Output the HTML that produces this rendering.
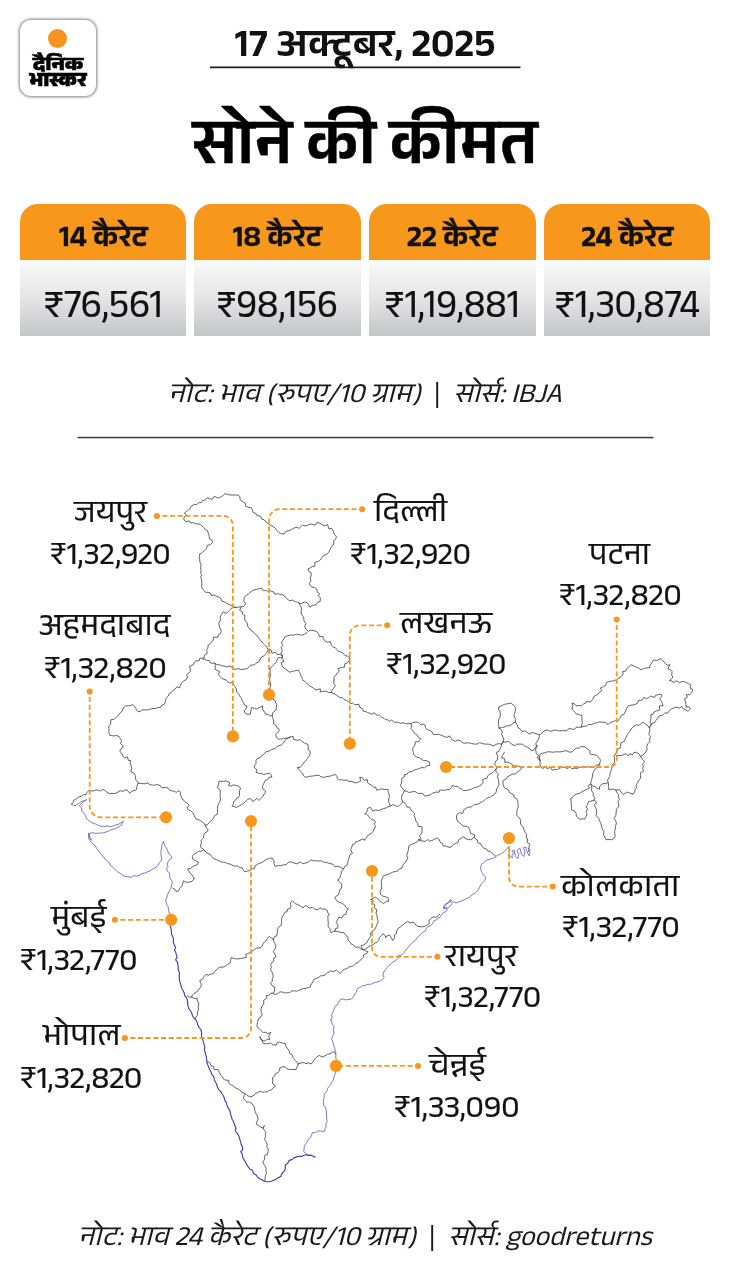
<!DOCTYPE html>
<html lang="hi">
<head>
<meta charset="utf-8">
<title>सोने की कीमत</title>
<style>
html,body{margin:0;padding:0;background:#fff;}
body{width:730px;height:1280px;position:relative;overflow:hidden;
  font-family:"Anek Devanagari","Noto Sans Devanagari","Liberation Sans",sans-serif;color:#111;}
.abs{position:absolute;white-space:nowrap;line-height:1;}
.logo{position:absolute;left:20px;top:20px;width:76px;height:76px;border-radius:11px;background:#fff;
  box-shadow:0 0 3px 1px rgba(0,0,0,.5);}
.logo .sun{position:absolute;left:28px;top:9px;width:19px;height:19px;border-radius:50%;background:#f7931e;}
.logo .l1,.logo .l2{position:absolute;left:0;width:76px;text-align:center;font-weight:800;color:#000;line-height:1;white-space:nowrap;-webkit-text-stroke:0.5px #000;}
.logo .l1{top:37.8px;font-size:19px;transform:scaleX(1.13);}
.logo .l2{top:52.6px;font-size:20.5px;transform:scaleX(1.04);}
.date{left:0;width:730px;text-align:center;top:30px;font-size:39.5px;font-weight:600;color:#111;transform:scaleX(1.015);}
.title{left:0;width:730px;text-align:center;top:122px;font-size:63.5px;font-weight:600;color:#000;transform:scaleX(1.0);-webkit-text-stroke:0.4px #000;}
.card{position:absolute;top:204px;width:166.4px;height:131.5px;border-radius:18px 18px 0 0;overflow:hidden;
  background:linear-gradient(#fafafa 55px,#e6e6e7 93px,#c5c6c8 131px);}
.card .h{position:absolute;left:0;top:0;width:100%;height:55.5px;background:#f7981d;}
.card .ht{position:absolute;left:0;top:23px;width:100%;text-align:center;font-size:29px;font-weight:600;transform:scaleX(1.05);-webkit-text-stroke:0.35px #111;line-height:1;color:#111;white-space:nowrap;}
.card .p{position:absolute;left:0;top:86.5px;width:100%;text-align:center;font-size:40px;font-weight:400;-webkit-text-stroke:0.2px #111;line-height:1;color:#111;white-space:nowrap;}
.note{left:0;width:730px;text-align:center;font-size:27.5px;font-style:italic;font-weight:400;color:#1a1a1a;transform:scaleX(1.03);}
.note i{font-style:normal;display:inline-block;padding:0 12.6px 0 12.4px;}
.city,.val{position:absolute;white-space:nowrap;line-height:1;color:#111;font-weight:400;transform-origin:0 0;-webkit-text-stroke:0.22px #111;}
.city{font-size:31px;}
.val{font-size:32.3px;}
#map{position:absolute;left:0;top:0;width:730px;height:1280px;}
</style>
</head>
<body>
<div class="logo"><div class="sun"></div><div class="l1">दैनिक</div><div class="l2">भास्कर</div></div>
<div class="abs date">17 अक्टूबर, 2025</div>
<div class="abs title">सोने की कीमत</div>
<div class="card" style="left:19.8px"><div class="h"></div><div class="ht">14 कैरेट</div><div class="p" style="transform:scaleX(0.972)">₹76,561</div></div>
<div class="card" style="left:194.3px"><div class="h"></div><div class="ht">18 कैरेट</div><div class="p" style="transform:scaleX(0.962)">₹98,156</div></div>
<div class="card" style="left:369.2px"><div class="h"></div><div class="ht">22 कैरेट</div><div class="p" style="transform:scaleX(0.962)">₹1,19,881</div></div>
<div class="card" style="left:544px"><div class="h"></div><div class="ht">24 कैरेट</div><div class="p" style="transform:scaleX(0.962)">₹1,30,874</div></div>
<div class="abs note" style="top:384px">नोट: भाव (रुपए/10 ग्राम)<i>|</i>सोर्स: IBJA</div>
<svg id="map" viewBox="0 0 730 1280"><rect x="210" y="66.5" width="310.5" height="1.7" fill="#1a1a1a"/><rect x="77.5" y="436.8" width="576" height="1.5" fill="#3a3a3a"/><path fill="none" stroke="#3c3c3c" stroke-width="0.8" stroke-linejoin="round" stroke-linecap="round" d="M235.3 607.4 232.3 606.2 229.9 604.7 227.2 603.5 224.4 601.9 222.0 601.3 220.7 598.2 218.7 596.9 216.2 596.4 214.2 595.0 211.0 595.5 210.0 592.8 207.9 592.3 205.5 592.4 203.4 589.8 201.6 587.4 201.8 585.0 201.9 582.8 201.7 579.9 200.7 576.9 201.7 574.7 200.6 573.2 201.1 570.4 200.6 567.7 201.2 564.8 200.0 562.7 199.7 559.0 199.2 556.7 199.7 554.0 201.7 552.9 204.8 550.0 206.6 548.5 207.2 545.3 210.3 544.7 212.6 542.5 211.9 540.2 209.1 538.6 209.3 536.2 208.2 533.2 207.6 530.8 205.2 529.3 203.6 527.6 201.1 525.2 198.8 523.9 196.0 524.0 192.9 522.5 190.7 523.1 189.4 520.9 186.0 521.6 183.8 519.7 184.1 517.0 186.5 515.3 184.3 513.0 187.4 510.7 189.6 509.2 191.6 505.7 194.2 504.7 196.8 504.5 198.6 502.7 201.3 502.7 202.5 500.5 205.1 500.2 207.2 497.7 209.3 498.6 212.4 499.2 214.3 496.3 217.5 497.8 219.4 497.9 222.7 495.7 225.0 493.7 227.1 494.2 229.7 494.9 232.9 495.0 235.9 495.0 238.1 495.1 239.9 496.7 240.1 499.8 242.2 501.4 245.3 503.1 245.7 506.3 249.0 507.4 251.5 507.9 252.4 510.2 253.0 512.6 255.9 513.4 256.8 515.5 260.7 516.2 261.7 519.2 264.1 519.7 266.0 522.0 268.2 523.8 270.7 525.4 273.0 526.5 275.1 527.9 276.5 530.1 278.4 532.2 280.5 533.4 284.0 534.2 285.8 531.3 288.8 530.7 291.9 529.3 294.3 528.0 297.0 527.1 298.9 528.5 302.4 525.1 305.3 526.0 307.9 525.2 310.3 524.1 312.1 524.2 315.3 525.2 316.7 522.5 319.4 523.2 321.9 524.6 324.4 526.0 327.6 524.6 328.7 528.5 332.1 528.8 333.4 531.2 333.9 533.8 335.3 534.8 336.5 537.2 334.9 539.9 333.5 540.7 334.0 544.4 332.2 545.4 331.1 547.6 329.4 550.9 328.5 552.6 326.2 554.6 323.4 555.7 321.6 558.1 319.5 560.7 317.6 561.5 314.9 562.3 314.8 566.3 312.3 566.4 309.9 568.1 307.9 569.0 308.9 571.6 311.0 572.4 311.2 575.9 310.1 577.9 311.0 580.6 309.3 583.6 310.7 586.1 311.9 587.1 314.4 587.3 316.7 589.0 317.2 592.1 319.5 593.7 318.5 595.9 320.3 597.8 320.1 601.6 317.8 602.2 316.2 604.7 313.9 605.3 312.0 605.1 310.1 607.4 308.6 604.4 307.5 602.9 304.7 601.9 301.7 603.4 299.2 603.3 M235.3 607.4 238.1 607.2 240.8 606.8 243.7 606.4 245.5 603.8 243.7 600.9 244.4 597.5 246.3 595.1 248.5 593.8 251.2 591.5 253.2 590.1 256.5 589.4 259.1 588.7 261.4 588.2 263.7 590.9 266.6 590.3 268.2 591.8 270.7 591.0 273.9 592.1 275.1 594.5 277.4 593.4 279.6 594.3 281.9 594.5 284.7 596.1 286.6 598.4 289.4 600.8 292.9 600.0 295.2 601.7 296.7 601.8 299.2 603.3 M299.2 603.3 300.4 606.2 301.8 607.8 301.1 611.0 301.3 614.1 303.0 616.3 303.8 618.4 303.9 620.6 305.8 623.4 304.7 626.6 305.8 629.2 308.5 631.2 310.8 630.2 314.0 630.7 316.8 631.7 318.6 634.1 319.5 636.7 322.9 636.4 323.2 638.5 325.2 641.3 327.7 642.2 330.5 641.7 331.2 645.0 333.3 647.1 335.3 647.7 337.0 649.6 338.7 651.6 340.1 651.6 343.0 653.2 345.3 655.8 347.6 656.1 349.9 658.1 M235.3 607.4 232.8 606.9 229.6 610.3 228.5 611.5 226.2 613.3 223.3 611.7 221.6 614.2 220.1 617.2 220.6 619.9 218.9 622.5 219.2 625.6 219.9 627.9 221.2 630.4 220.8 633.4 218.4 634.6 217.9 637.2 213.2 637.2 213.4 640.3 212.2 640.9 210.1 644.0 208.0 645.3 207.9 648.2 206.6 649.9 207.2 653.6 204.6 655.0 203.8 658.1 199.9 658.1 199.0 661.0 195.6 660.8 194.0 662.8 193.4 664.7 189.6 666.3 190.1 669.0 190.4 671.5 186.7 674.5 187.4 677.3 M240.8 607.4 239.7 610.4 242.5 611.9 242.2 614.2 244.9 615.4 244.5 619.0 245.5 621.1 247.2 623.0 247.5 626.0 249.0 627.9 250.4 630.1 252.9 631.4 253.9 632.8 255.9 634.8 258.0 636.5 259.4 638.9 261.1 641.0 262.7 643.0 264.4 644.6 266.8 647.1 268.2 649.8 269.6 651.2 M225.8 680.0 227.6 681.7 229.3 682.8 232.9 682.7 234.0 685.5 235.8 687.8 236.3 688.6 236.7 692.3 239.2 694.4 239.4 695.7 241.5 698.3 242.2 700.5 243.6 702.7 244.7 705.3 247.1 706.0 246.3 708.6 244.1 710.6 244.9 712.9 247.0 714.3 250.4 714.2 250.8 711.6 251.2 709.1 251.8 707.4 254.8 708.7 257.3 708.8 260.9 706.7 262.7 706.0 262.5 709.0 264.9 712.6 265.5 714.2 268.2 714.4 269.9 716.0 272.3 715.6 272.4 713.0 274.9 711.2 276.0 709.8 276.4 707.4 276.7 704.7 275.7 702.7 275.1 700.5 272.9 699.1 271.1 698.7 269.6 696.4 M272.3 715.6 272.7 717.7 273.5 720.1 273.7 723.8 276.1 725.4 277.0 727.8 279.2 729.3 278.7 731.5 275.7 734.5 276.4 737.5 278.5 739.1 281.9 738.9 283.8 738.3 287.9 738.2 290.1 737.0 293.1 736.5 293.7 739.4 297.0 740.3 299.9 739.6 302.1 741.6 305.3 743.4 307.9 744.4 308.2 747.1 308.2 749.8 310.1 751.2 310.1 754.2 308.8 756.7 306.6 759.5 305.3 761.3 303.9 762.3 302.5 764.9 300.3 767.3 297.0 767.7 298.9 769.3 300.5 771.1 302.5 773.2 303.4 775.7 305.2 777.3 307.6 776.8 309.4 776.4 313.4 775.9 316.3 775.4 319.2 775.3 321.0 777.0 324.4 777.3 326.9 776.4 330.2 776.2 332.2 775.3 335.3 774.5 336.8 776.2 337.7 778.7 339.5 780.0 341.4 779.6 344.0 780.3 346.7 780.1 349.0 781.4 351.9 781.4 354.3 782.7 357.3 782.7 360.5 781.1 360.0 777.3 M290.1 737.0 287.1 738.3 285.7 739.5 283.3 743.0 281.5 745.0 278.0 745.9 276.5 747.2 275.1 748.5 272.2 749.2 270.6 750.3 268.7 751.2 266.2 751.7 264.1 754.0 261.2 756.1 260.1 757.6 257.3 758.3 255.9 760.8 256.1 763.4 254.4 765.6 254.5 767.7 256.9 769.8 256.0 772.3 258.6 773.2 261.2 773.4 263.8 774.5 266.6 773.8 269.6 773.2 271.4 775.2 271.8 777.3 269.2 777.1 267.5 779.8 265.5 780.0 264.1 782.9 262.7 785.5 262.6 788.8 265.4 790.8 265.5 792.3 263.9 794.4 263.2 796.3 261.4 797.8 258.9 800.5 256.9 798.3 254.5 800.5 252.7 801.5 250.4 798.6 247.7 799.2 245.8 801.2 243.6 803.3 241.8 804.5 239.5 805.7 236.7 807.4 234.1 806.7 231.8 806.0 233.3 804.5 233.5 801.8 235.3 800.5 236.8 797.9 238.6 797.4 239.5 795.1 239.5 793.0 239.5 790.5 240.8 788.2 238.7 786.5 236.7 785.5 233.0 785.0 231.2 786.1 228.5 785.5 229.7 782.6 225.8 780.8 223.5 781.5 221.0 781.1 218.9 781.4 218.6 783.9 217.9 786.3 217.5 788.2 220.2 789.8 220.3 793.7 220.0 795.6 220.5 798.9 219.8 801.3 218.9 803.3 217.7 806.1 217.5 808.6 217.5 811.5 217.2 814.4 214.5 815.7 213.4 818.4 211.2 820.8 209.3 822.5 207.4 824.7 205.2 825.2 M160.0 785.5 162.0 787.9 165.4 787.4 168.2 788.2 169.8 790.5 171.7 790.8 174.4 791.3 176.4 792.3 179.1 790.7 180.5 792.3 180.2 794.5 181.9 797.8 183.2 800.1 185.4 801.9 187.4 803.3 189.2 805.2 187.0 807.9 188.8 810.1 190.8 810.9 193.3 813.1 194.2 815.6 195.7 818.7 199.4 820.1 201.1 821.1 203.3 822.6 205.2 825.2 M205.2 825.2 206.3 827.7 207.9 829.3 207.6 831.3 204.9 832.9 203.8 834.8 203.5 838.0 201.1 840.3 201.4 842.8 200.8 844.8 200.5 847.1 203.4 849.2 205.2 851.2 203.3 849.9 201.1 851.2 198.8 851.3 196.2 853.1 194.2 854.0 192.3 856.3 192.9 859.5 195.8 860.8 198.4 862.2 197.4 864.7 195.0 865.5 192.9 866.3 191.4 868.2 187.4 869.0 188.8 871.2 190.1 873.2 192.1 875.0 192.9 876.4 194.2 878.6 M205.2 851.2 206.7 852.9 210.2 854.4 212.1 856.7 213.9 858.7 216.2 859.5 218.9 860.8 222.3 862.2 225.6 862.4 227.1 863.6 230.0 864.0 233.0 865.7 235.3 866.3 236.9 865.5 240.1 867.8 242.2 867.7 243.7 871.0 244.9 871.8 247.4 871.0 250.0 870.6 251.8 869.0 254.6 868.7 254.9 866.1 258.6 863.6 261.1 862.9 264.5 861.1 265.5 859.5 267.7 859.1 269.6 858.2 272.3 858.1 273.9 860.9 274.1 863.6 275.1 866.3 278.2 865.6 280.6 865.8 283.3 864.9 286.2 864.6 289.1 861.9 291.5 862.2 293.8 862.9 297.0 863.9 300.6 861.9 302.5 863.6 305.7 863.1 307.9 862.4 310.8 860.0 313.4 860.8 316.0 860.8 318.9 861.1 321.6 860.8 324.0 862.3 326.2 862.3 329.9 863.6 333.0 864.2 334.8 866.5 338.1 866.3 341.5 867.9 343.6 869.0 344.6 866.4 347.1 865.3 347.7 863.2 348.1 860.4 349.0 858.1 349.9 854.9 352.4 853.4 350.7 849.5 351.8 847.1 352.5 844.5 354.9 843.8 355.9 841.6 357.4 841.6 360.0 840.3 M343.6 869.0 341.9 870.8 340.8 874.5 340.1 877.3 338.1 880.0 M302.5 680.0 304.8 681.3 305.9 682.7 307.9 684.1 310.0 686.3 311.7 686.9 313.4 688.2 316.0 690.0 320.3 688.8 320.3 692.0 324.4 691.0 326.9 691.4 329.1 692.8 331.2 692.3 332.1 690.3 334.3 687.4 335.3 685.5 333.8 683.4 334.0 680.0 M331.2 692.3 332.8 693.2 335.8 694.7 338.1 696.4 339.7 697.6 342.4 697.7 344.0 699.3 346.3 700.5 348.6 701.7 350.6 703.9 352.6 702.9 354.5 704.7 359.0 704.4 360.0 707.4 M187.4 677.3 186.2 679.7 184.0 680.5 181.9 682.9 180.5 685.2 179.6 688.0 176.9 686.6 175.1 689.3 172.8 690.6 171.2 692.6 169.2 693.6 168.2 696.2 166.6 697.7 165.7 699.7 164.9 703.1 164.1 704.4 161.9 705.0 160.8 707.2 157.5 707.5 155.9 708.5 152.9 708.5 149.8 709.3 147.9 709.9 144.9 709.9 142.4 709.8 140.7 711.3 138.1 711.8 136.4 709.9 135.9 708.3 134.2 706.0 132.6 704.4 130.2 705.8 128.3 705.6 125.8 705.8 123.0 708.1 122.5 710.9 120.3 712.6 118.4 715.6 116.8 716.7 115.3 718.4 113.4 719.5 110.9 719.7 110.5 724.4 108.8 726.3 108.9 728.7 108.8 731.8 109.8 735.3 113.4 735.9 116.6 735.6 119.0 736.4 120.3 738.6 121.5 740.8 120.7 743.6 122.5 745.5 123.2 747.4 119.9 750.0 120.3 752.3 122.5 754.0 122.8 756.5 124.4 757.8 127.2 756.8 128.6 760.5 130.7 760.5 130.1 762.3 131.3 766.3 131.8 768.8 130.7 771.7 134.4 773.2 135.3 775.6 135.4 778.0 136.1 780.3 138.1 782.5 M138.1 783.0 140.1 783.5 142.3 783.6 144.9 783.8 148.0 782.8 149.4 784.7 152.5 785.1 154.5 785.2 157.2 784.5 160.0 785.5 M138.1 783.0 136.9 786.3 136.7 789.3 135.4 790.4 131.5 791.2 129.9 793.4 128.6 791.8 127.1 790.1 125.0 790.0 123.0 791.4 120.3 790.7 118.0 792.0 114.9 793.6 112.1 793.4 109.1 793.5 107.0 792.4 105.2 790.7 102.8 789.3 100.3 791.1 98.8 790.2 95.6 790.1 93.3 790.9 91.1 790.9 88.8 790.7 86.7 792.7 86.0 794.8 83.3 794.7 81.5 796.3 79.2 796.7 77.6 798.0 76.3 798.8 73.7 800.3 72.9 802.5 71.5 804.4 M202.5 659.2 204.9 658.8 206.9 660.5 209.3 660.5 210.2 663.0 214.8 663.3 215.3 664.7 215.1 669.2 216.2 670.1 219.5 671.3 218.5 674.8 220.3 677.0 221.9 678.5 225.8 680.0 M214.8 663.3 217.2 664.8 219.3 664.6 221.6 665.8 224.4 666.0 226.9 667.0 230.5 665.9 232.6 668.8 235.7 669.3 238.1 668.5 240.8 669.6 243.8 669.2 247.5 668.5 249.0 666.8 250.2 665.3 254.6 664.8 255.9 663.3 258.8 661.9 260.0 659.7 M349.9 658.1 349.0 660.7 346.8 663.3 344.8 663.8 344.5 667.1 341.4 667.4 337.7 668.6 339.4 671.2 337.3 672.9 336.2 674.9 334.0 677.1 334.0 680.0 M360.0 707.4 362.8 709.1 363.3 711.2 365.8 711.5 367.7 712.6 370.1 713.4 372.0 714.2 374.2 712.8 377.0 715.3 379.4 715.0 381.6 717.2 383.8 718.1 385.4 719.7 387.6 719.7 389.3 721.6 391.7 719.9 394.1 722.5 396.2 722.2 398.4 722.3 400.7 723.4 403.0 722.7 405.7 723.7 408.7 723.6 410.7 723.6 412.9 722.7 415.1 722.0 418.1 722.2 420.6 724.7 422.9 724.1 424.9 724.9 425.6 727.7 426.4 728.8 429.0 730.4 431.8 731.4 433.0 734.3 435.9 734.5 438.7 734.3 441.1 735.1 444.1 736.4 446.7 737.5 449.6 735.9 451.5 738.8 452.3 740.0 455.1 741.3 458.0 740.0 460.5 740.8 463.2 742.9 465.8 743.2 468.8 742.7 471.4 743.6 474.8 744.1 477.0 744.1 479.6 742.6 482.5 743.6 484.9 744.1 488.4 744.1 490.7 744.7 494.0 746.1 495.5 744.4 498.9 743.6 501.6 744.3 503.0 741.9 M498.9 707.1 501.2 705.9 504.4 704.4 506.2 704.0 509.2 703.5 511.2 703.0 513.3 705.2 515.3 707.1 515.5 710.6 515.1 711.9 514.0 715.3 514.5 717.2 515.7 719.6 515.3 722.2 513.6 723.0 511.2 724.9 508.4 725.9 506.5 725.8 504.4 727.1 501.7 727.5 498.9 728.2 498.7 725.4 498.6 724.4 498.4 720.8 498.9 718.9 500.2 716.7 500.3 714.0 499.8 710.7 498.5 710.1 498.9 707.1 M498.9 728.2 500.5 728.8 502.3 731.9 501.6 734.5 502.5 736.0 503.9 739.5 503.0 741.9 M515.3 722.2 517.2 724.5 518.1 727.7 520.6 729.3 521.8 731.5 524.3 730.9 526.3 731.8 529.4 734.0 532.0 732.5 534.5 733.2 537.0 734.1 539.5 734.5 539.4 736.4 538.7 738.6 537.3 741.4 535.7 743.7 537.3 746.8 535.9 748.2 535.7 750.0 536.3 753.7 538.6 755.1 537.4 757.7 540.0 760.5 M503.0 741.9 506.0 742.1 508.5 741.4 510.7 743.0 512.0 744.6 515.3 745.5 516.8 744.1 519.5 744.1 522.2 744.1 524.4 745.8 526.5 746.7 529.0 748.2 531.0 749.6 531.8 751.0 534.2 749.6 535.8 746.6 537.3 745.5 M410.7 723.6 411.9 726.0 410.9 728.3 412.6 730.4 413.8 732.6 416.7 734.5 418.2 737.3 420.8 738.6 418.5 741.6 415.3 741.9 414.9 744.8 414.1 746.3 412.6 748.2 412.8 750.4 413.3 752.6 414.0 755.1 416.5 757.0 419.5 757.8 420.5 758.4 423.7 760.6 426.3 760.5 429.4 762.1 429.9 765.5 426.8 765.8 424.3 767.9 422.2 767.4 418.5 768.8 416.5 769.4 414.0 770.1 412.3 771.5 408.5 772.2 407.1 774.2 404.1 774.7 404.3 777.0 401.6 778.4 401.8 780.5 401.4 783.3 400.3 785.2 401.4 787.1 402.9 788.9 404.4 790.7 M404.4 790.7 407.0 791.4 408.5 792.4 411.2 792.1 414.8 791.3 417.2 793.1 419.5 793.4 422.7 793.4 424.9 796.2 427.0 795.7 430.4 794.8 433.2 792.9 435.9 792.1 439.1 792.2 439.6 790.2 442.7 790.1 445.5 790.2 446.7 789.8 449.6 789.3 451.7 787.3 452.3 785.2 454.7 786.3 457.8 786.6 459.8 788.4 461.1 788.4 463.3 790.7 466.3 790.5 469.2 789.7 471.5 789.3 473.6 787.9 476.2 787.2 478.4 786.6 480.9 785.1 483.1 782.4 482.5 779.7 484.9 778.7 487.0 778.3 487.9 775.6 489.3 774.4 492.3 772.8 493.4 771.5 496.2 768.8 M503.0 741.9 501.6 744.0 501.3 746.2 500.3 748.2 498.8 751.5 496.2 752.3 496.9 754.0 497.7 756.4 497.5 759.2 495.2 762.0 494.8 764.7 496.8 766.7 496.2 768.8 495.8 771.4 498.3 773.7 497.5 777.0 498.6 779.8 498.6 781.5 498.9 785.2 498.1 786.8 496.5 789.0 496.2 792.1 494.6 794.2 491.4 796.4 489.3 797.5 486.4 798.3 485.2 799.6 482.5 801.6 480.1 802.9 477.0 804.4 474.2 804.4 472.7 805.9 471.3 806.9 467.3 807.3 466.0 808.5 464.0 809.5 462.7 813.4 459.2 812.6 456.8 815.0 456.4 818.1 457.5 821.0 458.2 822.2 460.5 823.6 463.1 826.0 466.0 826.3 468.4 827.2 469.7 829.2 470.1 831.8 470.8 833.6 474.7 834.8 474.2 837.3 477.0 840.0 M504.4 752.3 502.4 755.5 501.6 757.8 504.5 758.5 504.9 762.6 507.1 761.9 509.3 762.8 511.7 764.0 512.9 765.8 515.3 766.0 519.1 766.1 521.4 768.2 519.5 770.7 516.6 772.5 515.3 774.2 512.4 774.1 509.0 776.0 507.1 777.0 506.0 779.3 503.2 780.5 503.0 782.5 503.1 784.7 504.4 787.9 507.5 788.9 509.6 792.6 511.2 793.4 513.9 795.0 513.8 797.0 516.7 798.9 517.9 801.6 518.1 804.2 518.1 807.1 517.3 809.4 516.8 812.2 516.7 815.3 518.6 817.0 519.9 818.8 520.8 820.8 520.4 824.0 522.9 826.5 523.6 829.0 525.0 832.1 526.6 834.4 526.3 837.3 527.7 840.0 M360.0 777.3 362.3 777.6 364.1 780.3 367.4 779.7 367.7 782.7 368.8 783.8 371.5 785.2 373.7 787.5 375.6 787.1 376.7 790.3 379.7 789.3 382.1 788.9 385.3 789.7 387.9 789.3 388.3 792.8 389.2 794.9 389.3 797.5 388.4 800.0 389.4 804.0 390.7 805.8 392.6 804.8 394.5 805.3 397.5 806.6 398.9 805.8 401.6 803.1 402.5 801.6 401.5 798.8 401.8 795.5 403.3 793.4 404.4 790.7 M390.7 805.8 388.2 806.7 386.2 807.9 383.8 808.5 381.1 809.5 378.5 810.5 375.6 809.9 372.8 811.2 370.4 807.3 367.4 808.5 367.0 811.9 364.7 814.0 366.4 814.2 369.0 816.4 370.1 818.1 371.7 819.7 373.9 819.9 375.6 822.2 373.9 824.3 375.7 826.0 374.2 829.0 372.5 832.5 371.4 833.4 368.8 834.5 367.3 836.2 366.6 837.8 364.7 840.0 M402.5 801.6 405.2 803.4 406.3 805.1 407.1 807.1 409.7 807.2 411.0 810.3 412.6 811.2 414.5 813.4 414.0 815.6 415.3 818.1 415.7 820.6 417.8 823.3 418.1 826.3 421.8 826.6 422.2 830.4 421.9 833.0 419.5 835.9 420.6 838.2 420.8 840.0 M540.5 734.5 543.1 732.3 544.0 730.9 547.4 729.9 550.3 731.3 552.5 730.8 555.6 729.9 558.4 730.8 561.0 730.8 563.8 730.4 566.5 731.1 568.5 728.7 572.1 729.0 574.4 729.6 576.3 727.2 578.6 727.3 581.6 727.1 581.7 724.9 582.5 722.2 581.8 720.4 582.0 717.8 581.6 715.3 578.8 714.5 576.2 714.0 575.3 712.5 572.6 709.9 572.0 708.0 573.0 706.0 572.1 703.0 574.4 703.8 576.2 705.8 579.3 705.5 581.6 705.8 583.8 703.8 585.8 703.0 586.5 701.2 590.4 702.1 591.8 700.3 593.3 698.4 594.0 696.2 595.7 695.5 598.0 694.3 599.5 692.1 601.6 690.8 600.5 687.8 603.6 686.6 605.8 685.2 606.3 682.5 608.6 681.7 610.6 681.2 613.2 681.1 616.0 679.8 618.6 678.4 621.2 676.8 623.2 674.0 622.7 671.5 625.8 671.1 626.5 668.8 628.2 667.4 631.0 664.7 633.5 665.8 636.4 667.4 638.4 667.8 640.9 669.8 643.3 668.8 644.6 668.1 647.6 667.9 650.1 667.4 649.7 665.5 651.5 663.3 653.6 660.0 657.0 660.5 660.1 659.0 661.1 658.6 663.1 660.9 665.2 663.3 667.4 665.3 670.1 664.7 668.9 666.5 667.9 668.8 670.9 670.1 672.1 671.5 671.7 675.1 672.9 677.0 671.3 679.0 669.3 680.5 672.1 681.0 673.4 682.5 676.2 680.9 679.6 682.8 681.6 681.6 684.6 681.7 686.1 682.4 688.5 683.8 691.1 685.3 689.9 688.1 692.6 689.3 691.9 692.2 689.9 694.8 686.4 694.6 687.2 697.4 684.4 698.9 685.8 702.0 685.8 704.4 686.1 707.0 689.1 706.9 690.4 709.0 688.0 711.2 685.8 709.9 682.7 708.5 681.6 706.3 679.7 708.1 676.2 707.1 674.1 707.9 671.3 708.9 669.3 710.7 667.4 713.3 665.1 712.7 662.5 715.3 659.0 716.0 658.1 717.9 655.6 720.8 654.3 723.0 651.7 723.3 650.1 726.3 649.3 727.7 650.0 729.1 649.2 732.4 648.8 734.5 650.7 736.3 649.3 739.9 650.1 741.4 647.9 743.7 646.6 746.8 647.2 749.3 645.5 752.3 643.3 754.9 640.5 756.4 642.4 758.8 642.8 759.8 644.7 761.9 642.6 764.2 643.4 766.2 642.7 768.8 643.7 771.1 640.6 772.7 640.5 775.6 640.7 778.4 638.4 780.4 637.8 782.5 636.1 785.1 636.5 787.7 635.1 789.3 634.7 792.3 632.9 794.0 M581.6 727.1 584.1 726.3 586.5 726.1 588.5 724.4 591.8 724.7 593.7 723.4 596.7 722.7 599.2 721.9 602.1 722.2 604.9 722.2 608.1 724.7 610.1 722.5 613.2 721.6 615.4 720.6 618.1 720.8 619.7 718.5 621.4 715.3 624.2 714.1 625.1 712.2 626.8 708.5 628.2 705.8 630.6 705.3 633.1 705.0 635.1 704.4 637.6 703.2 638.5 700.4 641.9 700.3 643.7 697.3 646.5 698.7 648.8 697.5 650.6 696.1 654.6 697.4 655.6 695.3 658.9 694.6 661.1 694.2 662.0 696.1 659.7 698.9 661.0 700.7 662.4 703.4 663.0 705.8 659.4 705.9 659.7 709.9 656.8 710.8 654.2 711.8 653.0 714.3 650.9 714.8 651.0 718.1 650.5 720.4 650.0 722.2 651.5 724.5 649.3 727.7 M649.3 727.7 647.6 725.5 646.1 724.7 643.3 722.2 641.4 723.3 639.5 725.0 636.4 724.9 634.0 725.9 632.6 727.8 631.0 729.0 630.2 731.2 628.4 732.9 627.4 734.5 626.4 736.8 625.4 738.9 624.1 741.4 620.9 742.8 620.5 746.6 620.0 748.2 618.0 748.7 616.5 751.8 615.9 753.7 613.7 756.2 614.4 757.6 614.5 760.5 614.3 763.2 612.4 764.5 611.8 767.4 611.5 769.6 610.4 772.1 609.9 774.2 609.7 776.5 607.5 780.2 608.2 782.5 608.6 785.2 608.4 787.4 609.0 789.3 M615.9 755.1 617.8 755.5 620.9 755.6 622.7 755.1 625.7 753.7 628.5 755.8 629.6 753.7 632.6 754.9 633.8 752.5 636.4 752.3 639.0 753.9 640.5 756.4 M632.9 794.0 629.6 793.0 626.8 792.1 623.3 794.5 621.4 792.9 619.6 789.7 615.9 790.1 613.5 789.2 611.4 789.3 609.0 789.3 M539.2 757.8 539.6 756.1 540.5 753.7 542.8 753.2 544.8 752.8 547.4 751.8 550.2 751.8 552.4 752.3 555.6 751.8 558.8 751.9 561.0 751.8 563.8 751.0 566.5 750.8 570.0 752.3 572.1 751.8 573.8 750.1 576.2 748.2 579.1 748.1 581.2 746.5 584.4 746.8 586.8 748.3 588.5 749.6 590.1 750.9 589.9 753.7 591.5 754.5 594.6 754.8 596.7 755.1 597.9 756.5 599.4 758.5 600.8 760.5 600.0 762.1 599.5 764.7 597.0 764.8 594.0 767.4 591.3 767.6 588.8 766.5 585.8 767.4 583.3 767.1 579.5 767.2 577.4 768.4 574.8 768.2 571.9 768.8 570.1 766.7 567.3 768.6 565.2 767.4 562.1 767.0 561.1 767.5 557.5 769.5 555.6 769.3 552.3 770.2 549.9 767.3 547.4 768.8 545.5 767.2 542.5 768.4 540.5 766.6 539.9 763.7 540.3 760.7 539.2 757.8 M540.0 760.5 539.2 757.8 M570.7 798.9 573.0 796.8 574.8 794.8 577.8 793.6 579.5 793.4 581.6 792.1 584.0 790.7 587.1 789.3 589.3 788.1 588.5 785.3 590.7 783.8 591.3 785.6 591.8 787.9 591.5 790.4 593.4 793.4 593.2 795.8 594.9 797.9 594.0 800.3 591.0 801.1 588.5 801.6 587.5 804.7 585.8 807.1 587.6 808.6 586.1 812.3 587.1 814.0 585.9 816.5 584.4 819.5 583.3 818.5 580.3 819.5 577.5 817.7 576.2 815.3 576.2 813.5 574.8 811.2 571.4 809.7 571.5 807.1 571.4 804.8 571.0 801.2 570.7 798.9 M594.0 800.3 597.1 802.5 594.5 804.4 595.1 806.9 596.7 809.9 596.5 813.1 596.1 815.6 598.9 818.5 599.5 820.8 600.8 823.1 601.6 826.1 602.2 829.0 604.1 831.7 603.5 834.7 604.9 837.3 606.1 839.7 609.0 839.5 611.9 839.8 614.5 837.8 615.2 835.7 614.5 831.8 615.3 829.2 615.3 826.5 616.4 823.6 615.9 821.2 614.1 818.5 615.9 815.3 616.1 812.7 616.4 809.6 618.1 807.1 618.9 804.8 617.9 801.7 619.4 799.5 618.6 797.5 618.7 794.8 616.5 792.1 615.9 790.1 M599.5 764.7 597.8 767.1 595.3 768.8 593.6 771.5 592.6 774.2 592.3 777.0 591.8 779.2 591.2 781.1 590.7 783.8 592.8 786.2 595.3 786.6 596.6 788.2 599.5 789.3 599.7 786.3 602.2 783.8 606.0 783.4 608.2 782.5 M194.2 878.6 192.0 881.4 188.8 882.2 186.2 882.3 183.3 880.8 182.8 883.9 181.9 886.3 179.6 888.4 178.6 890.9 176.4 891.8 175.2 889.4 172.9 888.2 M187.4 995.9 189.1 996.9 191.5 997.3 192.5 994.9 195.7 992.3 197.0 991.8 198.5 989.1 200.0 988.1 201.1 986.3 201.1 983.7 199.7 980.8 202.5 979.2 203.8 976.7 205.9 974.4 208.8 975.3 210.7 974.0 213.2 973.9 214.9 971.4 216.2 969.9 218.7 968.0 219.7 967.0 223.0 967.1 225.1 966.4 226.9 964.7 229.9 963.0 230.5 960.8 231.2 957.5 232.8 958.1 235.6 958.8 238.1 958.9 240.8 958.5 243.0 958.2 246.3 957.5 245.8 954.3 248.2 953.6 250.4 952.1 251.9 951.5 254.5 949.3 256.8 948.0 260.0 947.9 M359.9 840.3 362.4 839.2 364.8 840.0 M337.9 880.0 339.1 881.6 341.4 883.7 341.8 885.8 341.3 888.5 339.9 889.4 339.0 892.6 338.4 895.0 335.8 896.4 334.9 898.1 336.8 901.0 339.0 902.2 341.8 903.2 344.5 904.9 345.9 907.3 348.6 909.0 346.7 910.7 345.9 914.5 343.5 914.9 341.6 918.2 339.0 917.3 337.4 919.9 336.3 922.7 337.9 925.0 337.7 928.2 335.6 928.4 334.9 931.0 M334.9 931.0 331.1 932.6 329.5 928.2 328.0 926.2 328.3 924.1 328.1 921.4 327.9 918.5 327.9 915.7 329.5 914.5 328.0 913.4 327.1 910.2 325.3 909.0 322.1 909.2 319.9 907.7 317.9 909.9 314.4 909.0 312.6 907.2 309.2 908.2 307.5 906.3 305.2 905.5 303.1 907.9 300.7 906.3 297.8 904.5 295.2 903.6 292.5 900.8 290.2 903.0 291.1 906.3 290.1 908.4 287.7 909.0 287.0 911.8 285.0 912.1 282.9 915.9 281.8 917.7 281.5 920.7 281.5 922.7 281.1 925.5 278.4 927.4 277.4 929.6 277.4 931.8 276.8 935.8 274.7 936.4 273.3 939.2 M334.9 931.0 337.6 931.5 340.4 932.3 344.1 932.7 345.9 935.1 348.0 937.7 348.0 940.0 350.0 941.9 351.0 943.8 353.7 945.2 355.5 947.4 358.1 946.9 360.7 948.7 362.3 949.3 M362.3 949.3 361.0 945.8 364.2 944.6 366.8 942.7 367.8 940.5 369.1 938.5 371.0 936.2 370.5 933.2 372.0 931.6 374.7 929.6 376.0 926.9 377.0 924.5 378.2 921.4 377.4 919.1 377.0 915.5 376.0 913.2 377.0 909.6 374.4 908.0 374.7 904.9 372.5 903.5 373.1 900.0 370.5 899.5 373.3 898.1 375.7 897.1 378.1 899.2 379.6 901.2 381.5 902.2 383.6 903.6 386.9 901.0 388.4 901.6 388.4 898.1 386.1 897.0 382.9 896.2 380.8 894.5 380.0 891.3 381.8 888.0 381.5 885.8 381.5 883.8 381.3 880.3 382.1 878.9 383.6 875.6 387.0 874.8 390.0 873.6 392.5 872.2 395.2 871.5 397.8 871.0 399.5 868.8 402.1 867.9 402.7 865.3 404.6 863.1 406.2 861.1 407.9 858.0 406.7 855.3 407.5 852.9 408.3 850.3 408.5 848.2 408.9 846.0 411.1 844.4 414.4 843.3 417.4 841.7 418.5 839.7 M418.5 839.7 420.8 840.9 422.8 841.0 425.3 841.4 427.7 839.5 429.7 841.0 432.2 840.5 434.9 839.1 437.2 837.9 439.0 839.2 440.5 842.7 442.3 843.4 443.2 846.0 445.6 846.0 447.4 846.7 450.0 847.4 M418.5 839.7 420.4 840.0 M362.3 949.3 365.0 949.4 367.8 947.4 370.6 945.5 373.3 944.7 374.7 943.0 377.0 942.3 378.8 940.5 379.2 937.7 381.8 935.2 382.9 933.7 385.3 935.6 385.6 937.8 387.1 935.9 389.7 935.1 391.4 937.8 392.5 940.5 394.6 937.7 394.3 935.0 396.5 933.4 396.6 931.0 398.4 928.1 400.7 926.8 403.0 924.8 405.3 922.8 407.5 921.4 410.1 922.9 412.6 922.2 414.4 922.7 415.6 925.0 417.7 926.3 421.2 926.8 424.3 926.6 426.7 925.5 429.3 923.8 428.9 921.0 430.8 918.6 433.6 916.8 436.3 917.3 437.6 915.9 439.6 914.5 M362.3 949.3 364.6 950.7 367.8 951.5 366.9 953.4 363.5 954.8 363.7 957.0 362.5 958.4 359.8 960.5 358.2 962.5 355.6 963.7 353.5 965.7 351.4 966.6 348.7 966.8 347.1 968.7 344.5 969.3 342.4 970.6 340.4 973.4 338.5 972.1 336.3 970.1 333.4 971.7 330.8 970.7 329.0 972.1 327.2 972.4 325.3 974.8 322.9 975.8 320.9 975.7 318.5 977.5 316.2 978.4 313.7 979.6 313.0 981.6 310.8 985.0 310.3 987.1 308.2 987.5 306.2 988.2 303.4 988.5 301.9 989.1 298.7 990.4 296.6 991.2 294.3 990.8 292.0 990.9 289.7 992.6 288.3 992.6 285.5 993.0 282.9 992.1 279.5 991.9 277.4 994.0 274.9 994.5 273.3 993.2 M273.3 939.2 273.8 941.5 275.0 943.6 276.0 946.0 275.4 948.3 273.3 951.5 275.0 954.7 276.0 957.0 273.7 958.0 273.8 961.0 271.9 962.5 270.6 964.8 271.4 967.3 270.5 969.3 271.7 971.7 272.5 973.2 273.3 976.2 272.2 978.8 272.4 981.1 270.5 983.0 271.9 985.5 274.7 987.1 274.4 991.1 273.3 993.2 270.4 993.3 268.3 995.6 266.4 995.3 266.9 997.9 263.8 1000.2 263.7 1002.2 263.7 1004.5 262.1 1005.9 261.0 1009.0 261.2 1012.1 262.3 1014.5 261.1 1016.8 258.9 1017.9 258.2 1020.0 M259.9 947.9 262.3 945.9 262.9 943.9 264.7 941.7 266.4 940.5 267.6 938.1 269.2 936.4 271.2 937.9 273.3 939.2 M477.0 840.0 477.8 842.9 480.8 843.6 482.0 846.5 483.6 848.0 486.3 849.0 487.9 851.2 490.4 851.4 491.8 853.2 493.9 854.7 495.9 856.4 M527.7 840.0 526.9 842.4 529.8 844.2 528.8 847.7 528.9 849.5 528.2 851.8 M449.9 847.4 452.6 845.4 454.8 843.6 458.0 842.5 458.9 839.5 460.9 838.6 463.0 836.7 466.0 838.8 468.5 839.5 471.0 839.8 474.2 837.3 M191.4 997.1 194.9 998.5 197.4 998.2 197.0 1000.0 198.6 1003.0 198.8 1005.1 198.1 1006.9 198.5 1010.2 197.4 1011.9 197.7 1015.1 196.1 1016.6 195.5 1018.8 M207.0 1061.8 209.7 1062.3 210.7 1065.2 213.8 1066.7 213.9 1069.4 218.2 1069.6 219.3 1072.2 220.5 1075.0 222.3 1076.5 223.4 1079.0 225.2 1080.1 228.8 1080.3 228.9 1083.2 230.7 1084.8 233.0 1085.6 234.4 1087.3 237.1 1088.6 239.9 1090.0 241.5 1092.2 245.3 1093.6 244.3 1095.4 243.4 1098.2 245.7 1100.6 246.7 1102.3 249.6 1102.1 252.2 1103.7 253.7 1106.2 254.5 1107.2 254.9 1110.5 255.4 1112.8 257.2 1115.4 257.7 1117.4 258.0 1119.7 256.6 1122.1 256.3 1124.2 259.0 1125.5 260.4 1127.0 262.9 1128.2 264.5 1125.6 263.2 1127.3 264.2 1130.3 265.9 1132.5 265.3 1134.6 265.6 1136.6 264.5 1139.3 266.5 1142.4 267.3 1144.8 266.6 1147.0 268.3 1149.0 268.1 1151.6 267.3 1154.7 265.2 1155.0 264.5 1157.1 264.7 1159.0 262.8 1161.9 263.7 1164.0 265.3 1166.4 266.2 1168.5 265.9 1170.8 266.5 1173.4 265.1 1176.4 265.3 1179.0 264.5 1181.2 M245.3 1093.6 246.9 1095.2 249.9 1096.9 252.2 1096.3 254.2 1095.0 255.4 1093.4 257.7 1092.7 259.9 1091.3 262.8 1092.3 264.5 1091.9 267.4 1092.0 268.9 1090.4 271.4 1090.0 273.3 1087.7 275.5 1085.9 272.5 1083.6 272.7 1080.4 272.3 1077.8 274.5 1076.1 275.5 1073.6 278.0 1072.7 279.6 1070.3 279.6 1068.1 282.4 1066.9 285.1 1066.7 287.2 1069.0 290.5 1069.5 293.0 1069.6 296.0 1069.5 297.1 1066.9 298.2 1064.0 M258.2 1019.9 257.5 1022.5 257.1 1024.2 257.0 1026.8 259.0 1028.4 261.2 1030.8 263.2 1032.5 265.3 1032.2 267.9 1033.5 270.8 1032.5 269.8 1034.3 268.7 1036.4 270.0 1039.3 267.0 1039.2 265.0 1041.2 263.2 1040.7 261.5 1039.7 259.9 1036.6 260.6 1039.4 261.8 1040.1 263.2 1043.4 265.5 1043.7 267.9 1043.8 270.3 1042.9 272.7 1044.8 276.2 1045.1 276.9 1042.8 279.6 1042.1 282.7 1043.2 285.1 1043.4 285.7 1046.0 287.8 1048.9 289.1 1050.9 289.8 1053.7 291.9 1054.4 293.1 1057.8 294.7 1059.9 297.1 1062.2 298.2 1064.0 M298.2 1064.0 301.3 1062.9 304.2 1062.6 306.0 1063.8 308.2 1062.8 311.1 1064.0 313.0 1061.8 314.7 1059.1 316.6 1057.1 319.3 1055.3 322.1 1057.1 324.7 1055.9 327.5 1054.4 331.2 1053.3 333.0 1051.6 334.4 1052.4 335.8 1054.4 M307.1 632.5 304.5 634.3 301.6 635.2 299.2 634.7 296.6 634.3 293.4 635.2 290.4 635.0 286.9 635.9 285.2 636.6 284.1 638.7 282.5 640.7 281.6 643.2 282.7 645.6 281.1 647.5 282.2 650.4 280.9 653.3 282.5 655.8 282.1 658.2 284.0 661.2 281.1 662.6 282.0 665.6 283.8 668.1 285.6 669.0 288.0 671.0 289.3 672.2 292.6 671.3 294.8 670.8 298.4 670.1 300.3 673.6 301.2 676.4 302.5 679.0 M282.5 655.8 281.8 658.1 278.6 657.3 277.0 659.9 276.6 661.8 274.5 664.0 272.9 665.3 271.8 666.6 270.0 669.2 270.1 672.2 270.4 675.7 269.9 677.1 269.6 680.4 270.3 682.3 270.8 684.8 270.1 687.3 269.9 690.3 271.2 692.7 271.0 696.1 269.6 696.3 M260.0 659.6 261.5 657.0 264.1 655.8 266.0 653.5 267.4 651.6 268.8 648.9 271.2 650.1 271.9 653.2 275.6 652.3 277.0 654.4 279.8 654.4 282.5 655.8"/>
<path fill="none" stroke="#5a57b8" stroke-width="0.8" stroke-linejoin="round" stroke-linecap="round" d="M71.5 804.4 75.1 805.8 77.9 804.0 80.5 802.2 82.7 801.2 84.4 800.6 86.8 799.7 84.7 800.8 82.8 802.2 80.9 804.1 79.2 805.8 81.5 807.6 81.9 811.2 83.9 813.5 85.5 815.5 86.0 818.1 88.1 820.2 90.3 821.6 92.9 823.0 95.7 824.1 98.4 825.5 101.1 826.3 103.3 826.3 106.0 826.3 108.0 825.9 110.7 826.8 113.2 825.8 115.5 825.1 118.9 824.1 121.1 822.6 123.6 821.4 122.5 822.6 121.6 824.9 119.3 826.5 116.7 827.6 114.8 829.0 112.1 829.4 109.3 830.6 106.6 831.8 103.6 832.7 101.4 833.0 98.4 833.2 95.8 833.4 92.8 832.7 90.1 833.2 88.8 835.1 88.8 837.3 91.5 840.0 M91.5 840.0 90.2 837.5 89.4 835.5 88.8 832.9 88.9 835.7 88.8 838.4 89.6 840.4 91.4 842.1 92.9 843.8 95.0 845.5 96.7 848.4 98.4 850.7 100.2 853.2 101.9 855.2 103.8 857.5 105.2 859.5 107.7 861.2 109.4 863.2 110.7 865.8 113.1 867.4 115.1 869.7 117.5 871.8 119.6 872.9 121.9 874.7 124.4 876.2 126.0 876.7 129.1 876.7 131.2 877.5 133.6 875.7 136.8 876.1 139.5 875.3 142.0 873.4 144.8 873.1 147.7 871.8 149.9 870.9 151.7 869.5 154.0 868.5 155.9 867.1 158.2 865.3 159.3 862.7 161.4 860.8 161.6 858.4 161.2 855.7 160.8 853.4 161.0 851.2 161.6 847.9 161.9 845.2 162.7 843.3 163.6 841.1 164.0 844.0 165.5 846.6 167.0 849.1 168.2 852.1 169.1 854.0 171.3 856.3 171.8 858.1 169.4 859.6 168.2 861.6 167.1 863.9 168.0 866.6 166.8 868.5 167.2 871.1 169.7 873.0 169.6 875.3 169.8 877.7 171.4 880.1 172.3 882.2 171.6 885.2 171.0 887.7 169.5 890.6 168.2 893.2 167.4 895.1 166.6 898.6 165.5 900.0 166.4 902.6 166.9 905.1 168.2 906.8 168.4 909.5 169.0 911.9 169.6 915.1 169.7 918.0 169.6 920.5 M450.0 900.8 448.5 903.1 445.9 903.6 444.0 905.7 443.2 907.7 445.2 907.9 447.3 909.0 446.3 911.3 443.1 912.8 441.8 914.5 440.1 917.0 438.1 917.9 436.3 920.0 434.1 920.6 432.6 923.7 430.8 925.5 427.9 926.9 426.3 928.4 425.3 931.0 422.5 932.6 420.5 934.5 418.5 936.4 416.9 938.1 415.1 940.6 413.8 941.4 411.6 943.3 409.8 945.3 407.9 947.7 406.6 949.4 404.8 951.5 403.3 953.5 401.5 955.1 398.5 955.7 397.9 958.4 395.5 960.8 392.9 961.8 391.1 963.8 388.9 965.5 387.0 967.5 385.6 969.3 383.7 972.1 382.9 974.8 384.2 977.5 382.5 979.1 380.6 980.7 378.8 981.6 376.0 982.1 372.6 983.4 370.5 984.4 367.9 984.2 364.9 985.4 362.3 985.8 360.4 987.2 358.2 988.1 356.8 989.9 356.2 992.3 354.8 994.0 354.1 995.9 352.7 998.1 350.2 999.4 347.3 999.5 345.7 1000.0 343.0 998.9 340.4 999.5 338.8 1002.1 337.4 1005.0 334.9 1006.3 334.3 1008.9 333.3 1011.1 332.2 1013.2 331.7 1015.5 332.2 1017.6 330.8 1020.0 M509.0 846.3 507.0 848.6 505.5 850.4 503.7 852.1 501.7 853.1 500.0 854.5 497.8 855.1 495.4 856.8 493.2 858.1 491.1 858.8 488.9 859.7 486.3 860.0 484.1 862.6 482.2 863.6 480.7 866.4 480.8 869.6 481.8 872.3 483.6 875.1 485.5 877.1 484.9 880.5 482.6 882.8 480.8 884.7 479.6 887.2 478.1 890.1 476.5 891.4 474.9 893.3 472.6 894.2 471.0 895.6 469.4 897.2 467.1 898.4 464.0 899.8 461.6 901.1 458.8 901.8 457.2 902.8 454.8 902.5 452.5 901.6 450.7 899.7 448.5 901.8 446.6 903.8 444.8 906.2 443.8 909.3 445.6 908.0 447.9 907.9 450.0 906.1 452.1 903.8 449.9 900.8 M509.0 850.4 509.2 853.6 510.1 855.9 512.3 858.1 512.2 855.4 513.4 853.2 511.8 851.0 514.5 850.4 514.5 853.0 515.6 856.4 517.8 858.6 518.4 856.2 518.9 853.7 517.3 851.8 517.3 849.9 520.0 848.2 520.7 851.3 521.6 854.5 523.8 856.4 524.6 853.6 524.9 851.0 523.3 847.7 526.0 847.1 526.5 850.4 527.7 853.2 529.3 855.9 529.8 853.5 529.9 850.4 528.2 848.2 M330.8 1019.9 331.7 1022.0 332.2 1024.2 334.2 1026.7 333.4 1028.5 333.8 1031.1 333.9 1034.1 332.4 1036.4 331.6 1039.3 332.5 1041.3 333.4 1043.8 333.8 1046.2 334.8 1048.5 335.2 1050.7 335.8 1053.0 335.8 1055.6 335.8 1057.7 336.3 1059.9 336.3 1062.2 336.3 1065.0 335.9 1067.2 336.6 1069.4 335.8 1072.2 334.6 1075.1 333.9 1077.3 333.0 1080.4 331.7 1082.6 330.6 1084.8 329.1 1086.4 327.5 1088.6 326.8 1091.3 325.1 1092.9 324.0 1095.5 324.3 1098.0 323.3 1099.9 323.4 1102.3 323.6 1105.2 325.8 1107.9 326.2 1110.5 326.5 1113.3 326.5 1115.8 326.7 1118.8 327.1 1121.5 325.7 1124.0 326.2 1127.0 324.9 1128.9 324.8 1131.1 322.4 1131.6 320.4 1130.8 317.9 1131.1 315.4 1132.8 312.5 1132.5 311.5 1135.1 310.6 1137.5 308.4 1139.3 307.5 1141.5 305.7 1144.0 304.2 1146.2 304.2 1148.6 303.7 1151.6 305.0 1152.8 307.0 1154.4 309.1 1155.1 311.1 1155.2"/>
<path fill="none" stroke="#4441a6" stroke-width="1.15" stroke-linejoin="round" stroke-linecap="round" d="M169.6 920.5 169.3 923.6 170.4 926.1 171.0 928.8 171.5 931.2 171.6 934.6 172.9 937.0 173.5 939.4 173.3 942.7 174.5 945.2 175.6 947.6 174.5 950.2 175.7 952.3 176.4 954.8 177.1 957.4 175.6 959.8 177.5 962.2 177.8 964.4 178.3 967.3 178.1 969.7 179.4 972.5 179.2 975.3 179.3 978.2 179.5 980.6 180.4 983.4 181.1 986.3 182.0 988.8 183.3 990.9 184.4 993.4 184.7 995.9 186.3 997.6 187.4 1000.0 M187.3 999.9 187.6 1002.1 187.7 1004.5 188.3 1007.0 189.2 1009.2 190.7 1011.0 191.6 1013.0 192.6 1015.7 193.3 1017.4 196.0 1020.1 197.3 1022.7 197.5 1024.5 198.8 1027.0 200.8 1029.5 201.6 1032.3 201.5 1035.2 201.7 1037.8 202.9 1039.9 203.4 1042.4 204.2 1044.8 204.8 1047.1 204.3 1049.5 205.0 1051.8 205.6 1054.4 206.4 1056.7 206.7 1060.0 207.0 1062.6 207.8 1064.9 208.7 1067.4 209.9 1069.9 211.1 1072.2 211.6 1074.2 213.8 1076.9 214.4 1079.9 215.2 1081.8 216.6 1084.0 217.4 1087.1 218.6 1089.6 220.7 1091.4 222.0 1093.7 223.2 1095.5 224.2 1097.8 224.7 1100.2 226.2 1102.3 226.8 1104.4 227.2 1106.2 228.8 1108.9 230.1 1111.1 230.3 1113.3 231.3 1116.4 232.0 1119.1 233.4 1121.2 234.4 1124.2 235.3 1126.3 235.9 1128.5 235.3 1131.0 237.1 1133.1 238.5 1135.2 239.4 1137.7 239.9 1139.5 240.7 1142.1 241.4 1144.8 242.6 1147.5 242.5 1150.0 240.7 1151.6 242.2 1154.0 242.7 1157.3 244.0 1159.9 245.8 1162.5 246.5 1164.4 248.1 1166.7 249.8 1169.0 252.4 1170.3 253.6 1173.6 256.2 1175.1 257.2 1176.8 259.0 1178.5 262.1 1179.7 264.5 1181.2 267.0 1181.6 268.6 1181.8 271.4 1181.3 273.3 1180.3 275.5 1179.6 278.1 1177.8 281.0 1176.3 281.4 1174.1 282.9 1172.5 284.5 1170.8 285.4 1168.1 285.1 1165.3 287.7 1163.1 289.2 1160.4 291.9 1159.6 293.8 1157.9 296.0 1157.1 298.6 1156.3 302.1 1156.3 304.2 1155.2 306.9 1154.7 308.6 1155.6 311.1 1155.2 313.2 1156.3 315.2 1157.1"/>
<g fill="none" stroke="#f7981d" stroke-width="1.8" stroke-dasharray="5 2.7" stroke-dashoffset="2.2">
<path d="M156.9 515.9 L223.4 515.9 A9.5 9.5 0 0 1 232.9 525.4 L232.9 736.4"/>
<path d="M362.1 509.2 L279.5 509.2 A10.5 10.5 0 0 0 269.0 519.7 L269.0 694.8"/>
<path d="M616.7 619.5 L616.7 759.5 A7.5 7.5 0 0 1 609.2 767 L446 767"/>
<path d="M89.7 691.6 L89.7 806.3 A11 11 0 0 0 100.7 817.3 L166 817.3"/>
<path d="M387.2 625.3 L359.8 625.3 A10 10 0 0 0 349.8 635.3 L349.8 743.6"/>
<path d="M552.7 886.6 L518.5 886.6 A9.5 9.5 0 0 1 509 877.1 L509 838.1"/>
<path d="M114.9 919.8 L171.2 919.8"/>
<path d="M437.4 956.8 L381 956.8 A9 9 0 0 1 372 947.8 L372 871"/>
<path d="M124.8 1038 L241.5 1038 A9.5 9.5 0 0 0 251 1028.5 L251 821.1"/>
<path d="M418 1065.9 L336 1065.9"/>
</g>
<g fill="#f7981d">
<circle cx="156.9" cy="515.9" r="3"/><circle cx="232.9" cy="736.4" r="6.1"/>
<circle cx="362.1" cy="509.2" r="3"/><circle cx="269.0" cy="694.8" r="6.1"/>
<circle cx="616.7" cy="619.5" r="3"/><circle cx="446" cy="767" r="6.1"/>
<circle cx="89.7" cy="691.6" r="3"/><circle cx="166" cy="817.3" r="6.1"/>
<circle cx="387.2" cy="625.3" r="3"/><circle cx="349.8" cy="743.6" r="6.1"/>
<circle cx="552.7" cy="886.6" r="3"/><circle cx="509" cy="838.1" r="6.1"/>
<circle cx="114.9" cy="919.8" r="3"/><circle cx="171.2" cy="919.8" r="6.1"/>
<circle cx="437.4" cy="956.8" r="3"/><circle cx="372" cy="871" r="6.1"/>
<circle cx="124.8" cy="1038" r="3"/><circle cx="251" cy="821.1" r="6.1"/>
<circle cx="418" cy="1065.9" r="3"/><circle cx="336" cy="1065.9" r="6.1"/>
</g></svg>
<div class="city" style="left:74.2px;top:502.3px;transform:scaleX(1.024)">जयपुर</div>
<div class="city" style="left:373.8px;top:500.9px;transform:scaleX(1.027)">दिल्ली</div>
<div class="city" style="left:589.0px;top:543.5px;transform:scaleX(1.015)">पटना</div>
<div class="city" style="left:39.1px;top:615.4px;transform:scaleX(1.026)">अहमदाबाद</div>
<div class="city" style="left:400.2px;top:612.7px;transform:scaleX(1.035)">लखनऊ</div>
<div class="city" style="left:561.4px;top:875.8px;transform:scaleX(1.031)">कोलकाता</div>
<div class="city" style="left:50.7px;top:907.1px;transform:scaleX(1.020)">मुंबई</div>
<div class="city" style="left:445.4px;top:946.3px;transform:scaleX(1.032)">रायपुर</div>
<div class="city" style="left:42.8px;top:1025.2px;transform:scaleX(1.026)">भोपाल</div>
<div class="city" style="left:428.7px;top:1054.8px;transform:scaleX(1.038)">चेन्नई</div>
<div class="val" style="left:50.0px;top:542.7px;transform:scaleX(0.987)">₹1,32,920</div>
<div class="val" style="left:350.0px;top:542.7px;transform:scaleX(0.988)">₹1,32,920</div>
<div class="val" style="left:558.8px;top:584.2px;transform:scaleX(0.994)">₹1,32,820</div>
<div class="val" style="left:44.4px;top:656.9px;transform:scaleX(0.994)">₹1,32,820</div>
<div class="val" style="left:385.6px;top:652.7px;transform:scaleX(0.984)">₹1,32,920</div>
<div class="val" style="left:561.8px;top:915.8px;transform:scaleX(0.992)">₹1,32,770</div>
<div class="val" style="left:20.0px;top:948.8px;transform:scaleX(0.989)">₹1,32,770</div>
<div class="val" style="left:424.2px;top:986.3px;transform:scaleX(0.986)">₹1,32,770</div>
<div class="val" style="left:20.0px;top:1066.6px;transform:scaleX(0.990)">₹1,32,820</div>
<div class="val" style="left:393.8px;top:1095.7px;transform:scaleX(0.999)">₹1,33,090</div>
<div class="abs note" style="top:1227.4px;transform:scaleX(1.022)">नोट: भाव 24 कैरेट (रुपए/10 ग्राम)<i>|</i>सोर्स: goodreturns</div>
</body>
</html>
